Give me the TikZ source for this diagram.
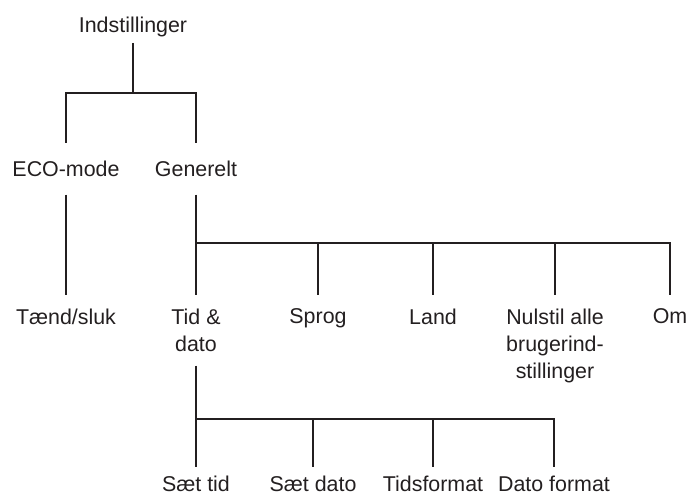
\documentclass[tikz,border=0pt]{standalone}
\usepackage{fontspec}
\setmainfont{Liberation Sans}
\usetikzlibrary{positioning}
\definecolor{ink}{HTML}{231F20}
\tikzset{
  lbl/.style  ={inner sep=0pt, anchor=north, align=center, text=ink,
                font=\fontsize{10.7}{13.4}\selectfont},
  rootlbl/.style={lbl, outer ysep=3pt},
  lv2/.style  ={lbl, outer ysep=9pt},
  lv3/.style  ={lbl, outer ysep=7pt},
  lv4/.style  ={lbl, outer ysep=4.5pt},
  ln/.style   ={draw=ink, line width=1.4pt},
}

\begin{document}
\begin{tikzpicture}[x=0.5pt,y=-0.5pt]
\useasboundingbox (0,0) rectangle (688,496);

% labels
\node[rootlbl] (ind) at (133,11) {Indstillinger};
\node[lv2] (eco) at (66,143) {ECO-mode};
\node[lv2] (gen) at (196,143) {Generelt};
\node[lv3] (tnd) at (66,295) {Tænd/sluk};
\node[lv3] (tid) at (196,295) {Tid \&\\dato};
\node[lv3] (spr) at (318,295) {Sprog};
\node[lv3] (lnd) at (433,295) {Land};
\node[lv3] (nul) at (555,295) {Nulstil alle\\brugerind-\\stillinger};
\node[lv3] (om)  at (670,295) {Om};
\node[lv4] (stid) at (196,467) {Sæt tid};
\node[lv4] (sdat) at (313,467) {Sæt dato};
\node[lv4] (tfmt) at (433,467) {Tidsformat};
\node[lv4] (dfmt) at (554,467) {Dato format};

% bus heights
\coordinate (bus1) at (133,93);
\coordinate (bus2) at (196,243);
\coordinate (bus3) at (196,419);

\draw[ln] (ind.south) -- (bus1);
\draw[ln] (eco.north) |- (bus1) -| (gen.north);
\draw[ln] (eco.south) -- (tnd.north);

\draw[ln] (gen.south) -- (tid.north);
\draw[ln] (bus2) -- (om.north |- bus2) -- (om.north);
\foreach \n in {spr,lnd,nul} \draw[ln] (\n.north |- bus2) -- (\n.north);

\draw[ln] (tid.south) -- (stid.north);
\draw[ln] (bus3) -- (dfmt.north |- bus3) -- (dfmt.north);
\foreach \n in {sdat,tfmt} \draw[ln] (\n.north |- bus3) -- (\n.north);
\end{tikzpicture}
\end{document}
